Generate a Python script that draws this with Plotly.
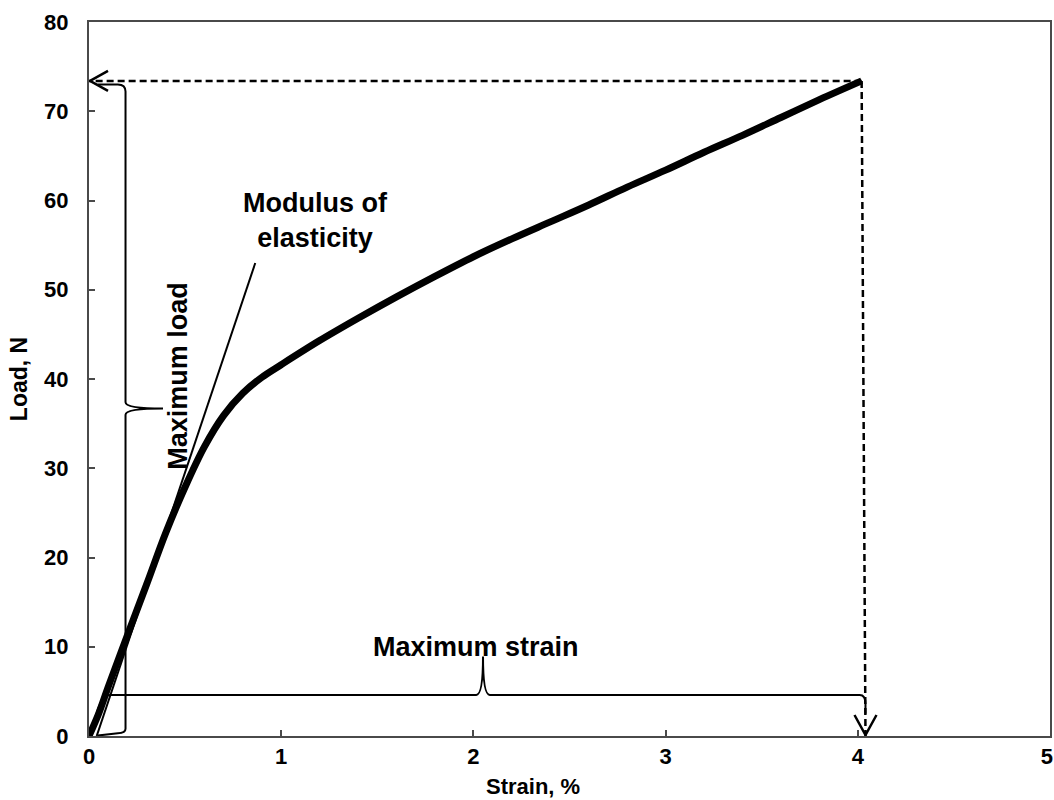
import plotly.graph_objects as go

# ---- data ----
strain = [0.0, 0.05, 0.1, 0.2, 0.3, 0.4, 0.5, 0.6, 0.7, 0.8, 0.9, 1.0, 1.2, 1.4, 1.6, 1.8,
          2.0, 2.2, 2.4, 2.6, 2.8, 3.0, 3.2, 3.4, 3.6, 3.8, 4.02]
load = [0.0, 2.5, 5.5, 11.3, 17.0, 22.8, 27.9, 32.4, 35.9, 38.4, 40.2, 41.6, 44.3, 46.8, 49.2, 51.5,
        53.7, 55.7, 57.6, 59.5, 61.5, 63.4, 65.4, 67.3, 69.3, 71.3, 73.4]
modulus_x = [0.04, 0.865]
modulus_y = [0.0, 53.0]
x_ticks = [0, 1, 2, 3, 4, 5]
y_ticks = [0, 10, 20, 30, 40, 50, 60, 70, 80]
label_modulus = "Modulus of<br>elasticity"
label_max_load = "Maximum load"
label_max_strain = "Maximum strain"
x_title = "Strain, %"
y_title = "Load, N"

max_load = max(load)
max_strain = strain[-1]
strain_foot = max_strain + 0.02  # dashed drop line lands slightly right

FONT = "Liberation Sans, Arial, sans-serif"
AX_COLOR = "#4a4a4a"

fig = go.Figure()

fig.add_trace(go.Scatter(x=modulus_x, y=modulus_y, mode="lines",
                         line=dict(color="black", width=2), hoverinfo="skip"))
fig.add_trace(go.Scatter(x=strain, y=load, mode="lines",
                         line=dict(color="black", width=7, shape="spline", smoothing=1.0),
                         hoverinfo="skip"))

shapes = []
dash = "7px,4px"
# dashed guide lines
shapes.append(dict(type="line", xref="x", yref="y", x0=max_strain, y0=max_load, x1=0, y1=max_load,
                   line=dict(color="black", width=2.5, dash=dash)))
shapes.append(dict(type="line", xref="x", yref="y", x0=max_strain, y0=max_load, x1=strain_foot, y1=0,
                   line=dict(color="black", width=2.5, dash=dash)))
# open arrowheads (pixel sized, anchored at data points)
shapes.append(dict(type="path", xref="x", yref="y", xsizemode="pixel", ysizemode="pixel",
                   xanchor=0, yanchor=max_load, path="M 19,10 L 1,0 L 19,-10",
                   line=dict(color="black", width=2.5)))
shapes.append(dict(type="path", xref="x", yref="y", xsizemode="pixel", ysizemode="pixel",
                   xanchor=strain_foot, yanchor=0, path="M -11,21 L 0,1 L 11,21",
                   line=dict(color="black", width=2.5)))

# curly brace for maximum load (vertical)
xb, xe, rx, ry, xt, d = 0.19, 0.045, 0.04, 0.8, 0.385, 0.7
ym = max_load / 2
ytop = max_load - 0.4
p = (f"M {xe},{ytop} L {xb-rx},{ytop} Q {xb},{ytop} {xb},{ytop-ry} "
     f"L {xb},{ym+d} Q {xb},{ym} {xt},{ym} Q {xb},{ym} {xb},{ym-d} "
     f"L {xb},{ry} Q {xb},{0.3} {xb-rx},{0.3} L {xe},{0.05}")
shapes.append(dict(type="path", xref="x", yref="y", path=p, line=dict(color="black", width=2)))

# curly brace for maximum strain (horizontal)
yb, yt, dx, r2x, r2y = 4.6, 8.9, 0.035, 0.03, 1.0
xm = 2.05
xl, xr = 0.05, strain_foot
p2 = (f"M 0.02,0.6 Q {xl},{yb} {xl+r2x*2},{yb} L {xm-dx},{yb} Q {xm},{yb} {xm},{yt} "
      f"Q {xm},{yb} {xm+dx},{yb} L {xr-r2x},{yb} Q {xr},{yb} {xr},{yb-r2y} L {xr},{2.5}")
shapes.append(dict(type="path", xref="x", yref="y", path=p2, line=dict(color="black", width=2)))

annotations = [
    dict(x=1.18, y=57.8, xref="x", yref="y", text=label_modulus, showarrow=False,
         font=dict(family=FONT, size=27, color="black"), align="center"),
    dict(x=0.465, y=40.4, xref="x", yref="y", text=label_max_load, showarrow=False, textangle=-90,
         font=dict(family=FONT, size=27, color="black")),
    dict(x=2.015, y=10.0, xref="x", yref="y", text=label_max_strain, showarrow=False,
         font=dict(family=FONT, size=27, color="black")),
    # x-axis title (sits left of the plot-area centre in the reference)
    dict(x=0.462, y=-0.0714, xref="paper", yref="paper", text=x_title, showarrow=False,
         xanchor="center", yanchor="middle", font=dict(family=FONT, size=22, color="black")),
]
for a in annotations:
    a["text"] = "<b>" + a["text"] + "</b>"

# last x tick label hugs the window edge; pad it so it stays visible
x_ticktext = [f"<b>{v}</b>" for v in x_ticks]
x_ticktext[-1] = f"<b>{x_ticks[-1]}\u00a0</b>"

fig.update_layout(
    width=1054, height=800,
    margin=dict(l=89, r=4, t=22, b=64),
    paper_bgcolor="white", plot_bgcolor="white",
    showlegend=False,
    shapes=shapes, annotations=annotations,
    font=dict(family=FONT, color="black"),
)
fig.update_xaxes(range=[0, 5], tickvals=x_ticks, ticktext=x_ticktext,
                 showgrid=False, zeroline=False, showline=True, mirror=True, automargin=False,
                 linecolor=AX_COLOR, linewidth=2, ticks="inside", ticklen=6, tickwidth=1.5,
                 tickcolor=AX_COLOR, tickfont=dict(family=FONT, size=22, color="black"),
                 ticklabelstandoff=0, ticklabeloverflow="allow")
fig.update_yaxes(range=[0, 80], tickvals=y_ticks, ticktext=[f"<b>{v}</b>" for v in y_ticks],
                 showgrid=False, zeroline=False, showline=True, mirror=True, automargin=False,
                 linecolor=AX_COLOR, linewidth=2, ticks="inside", ticklen=6, tickwidth=1.5,
                 tickcolor=AX_COLOR, tickfont=dict(family=FONT, size=22, color="black"),
                 ticklabelstandoff=14,
                 title=dict(text=f"<b>{y_title}</b>", font=dict(family=FONT, size=23, color="black"),
                            standoff=10))

# remove the page's default body margin so the 1054x800 figure fills the window exactly
fig.write_html("out.html", config={"displayModeBar": False},
               post_script="document.body.style.margin='0';document.body.style.overflow='hidden';")
